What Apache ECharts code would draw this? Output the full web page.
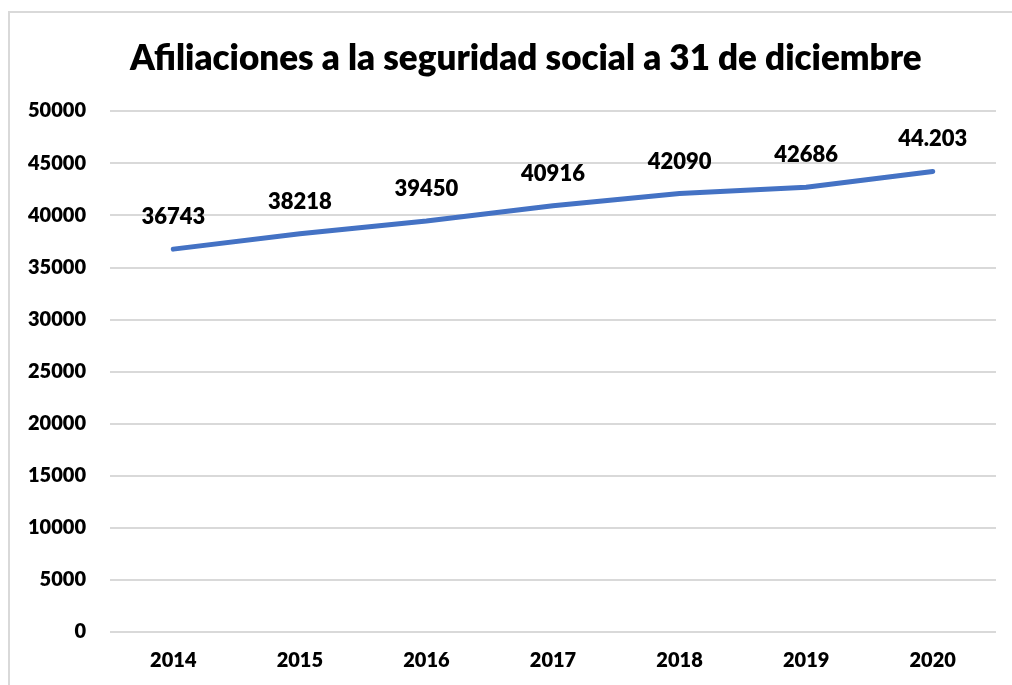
<!DOCTYPE html>
<html>
<head>
<meta charset="utf-8">
<script src="https://cdn.jsdelivr.net/npm/echarts@6/dist/echarts.min.js"></script>
<style>
  html, body { margin: 0; padding: 0; background: #fff; }
  #frame { position: absolute; left: 8px; top: 11px; width: 1010px; height: 680px;
           border-left: 2px solid #d9d9d9; border-top: 2px solid #d9d9d9; }
  #chart { position: absolute; left: 0; top: 0; width: 1012px; height: 685px; }
</style>
</head>
<body>
<div id="frame"></div>
<div id="chart"></div>
<script>
/* Afiliaciones a la seguridad social, line chart with bold data labels. */
const years = ["2014", "2015", "2016", "2017", "2018", "2019", "2020"];
const afiliaciones = [36743, 38218, 39450, 40916, 42090, 42686, 44203];
const labels = ["36743", "38218", "39450", "40916", "42090", "42686", "44.203"];
const FONT = "Lato, 'Open Sans', sans-serif";
const BLUE = "#4472c4";

const chart = echarts.init(document.getElementById("chart"));
chart.setOption({
  animation: false,
  title: {
    text: "Afiliaciones a la seguridad social a 31 de diciembre",
    left: 125, top: 36,
    textStyle: { fontFamily: FONT, fontSize: 35, fontWeight: 800, color: "#000" },
  },
  grid: { left: 110, right: 16, top: 111, bottom: 53 },
  xAxis: {
    type: "category", data: years, boundaryGap: true,
    axisLine: { show: false }, axisTick: { show: false },
    axisLabel: { fontFamily: FONT, fontSize: 20, fontWeight: 800, color: "#000", margin: 19 },
  },
  yAxis: {
    type: "value", min: 0, max: 50000, interval: 5000,
    axisLine: { show: false }, axisTick: { show: false },
    axisLabel: { fontFamily: FONT, fontSize: 20, fontWeight: 800, color: "#000", margin: 24,
                 formatter: (v) => String(v) },
    splitLine: { lineStyle: { color: "#d9d9d9", width: 2 } },
  },
  series: [{
    type: "line", data: afiliaciones, symbol: "circle", symbolSize: 2, showSymbol: true,
    itemStyle: { color: BLUE },
    lineStyle: { color: BLUE, width: 5, cap: "round" },
    label: {
      show: true, position: "top", distance: 20,
      formatter: (p) => labels[p.dataIndex],
      fontFamily: FONT, fontSize: 22, fontWeight: 800, color: "#000",
    },
  }],
});
</script>
</body>
</html>
